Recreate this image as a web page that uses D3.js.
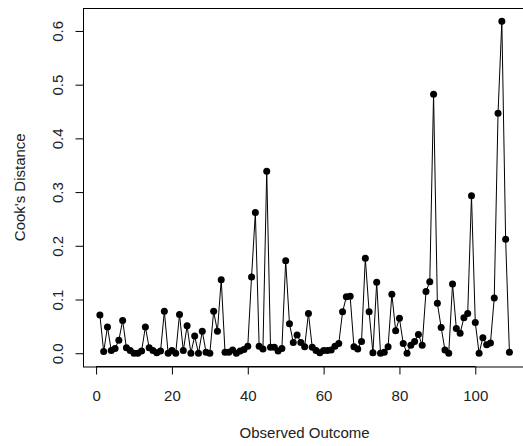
<!DOCTYPE html>
<html>
<head>
<meta charset="utf-8">
<script src="https://cdn.jsdelivr.net/npm/d3@7"></script>
<style>
    body { margin: 0; background: #fff; }
    #chart { width: 523px; height: 446px; }
    text { font-family: Arial, "Liberation Sans", sans-serif; }
</style>
</head>
<body>
<div id="chart"></div>
<script>

// observation index 1..109
var observations = d3.range(1, 110);

var cooksDistance = [
    0.071, 0.003, 0.049, 0.005, 0.009, 0.024, 0.061, 0.010, 0.005, 0.000,
    0.000, 0.004, 0.049, 0.010, 0.005, 0.001, 0.004, 0.078, 0.000, 0.005,
    0.000, 0.072, 0.005, 0.051, 0.000, 0.032, 0.000, 0.041, 0.002, 0.000,
    0.078, 0.041, 0.137, 0.002, 0.002, 0.006, 0.000, 0.004, 0.007, 0.013,
    0.142, 0.262, 0.013, 0.008, 0.339, 0.011, 0.011, 0.004, 0.009, 0.172,
    0.055, 0.020, 0.034, 0.020, 0.012, 0.074, 0.011, 0.005, 0.001, 0.005,
    0.005, 0.006, 0.013, 0.018, 0.077, 0.105, 0.106, 0.012, 0.008, 0.022,
    0.177, 0.077, 0.001, 0.132, 0.000, 0.002, 0.012, 0.110, 0.042, 0.065,
    0.018, 0.000, 0.015, 0.022, 0.035, 0.015, 0.115, 0.133, 0.482, 0.093,
    0.048, 0.006, 0.000, 0.129, 0.046, 0.037, 0.066, 0.074, 0.293, 0.057,
    0.000, 0.029, 0.016, 0.019, 0.103, 0.447, 0.618, 0.212, 0.002
];

var xTicks = [0, 20, 40, 60, 80, 100];
var yTicks = [0.0, 0.1, 0.2, 0.3, 0.4, 0.5, 0.6];
var xTitle = 'Observed Outcome';
var yTitle = "Cook's Distance";


class CooksPlot {


    constructor(x, y) {

        this._data = x.map((d, i) => ({ x: d, y: y[i] }));
        this._width = 523;
        this._height = 446;
        this._radius = 3.5;
        // plot region, the right edge falls just outside the picture
        this._box = { left: 83.5, right: 525.8, top: 8, bottom: 366.5 };
    }


    renderTo(selector) {

        var box = this._box;
        var xScale = this._getXScale();
        var yScale = this._getYScale();

        this._svg = d3.select(selector)
            .append('svg')
            .attr('width', this._width)
            .attr('height', this._height);

        this._svg.append('rect')
            .attr('x', box.left)
            .attr('y', box.top + 0.5)
            .attr('width', box.right - box.left)
            .attr('height', box.bottom - box.top)
            .style('fill', 'none')
            .style('stroke', '#000')
            .style('stroke-width', 1);

        // x axis
        var xAxis = this._svg.append('g')
            .attr('class', 'axis x-axis')
            .attr('transform', 'translate(0,' + box.bottom + ')')
            .call(d3.axisBottom(xScale).tickValues(xTicks).tickSize(8).tickSizeOuter(0));
        xAxis.select('.domain').remove();
        xAxis.append('line')
            .attr('x1', xScale(xTicks[0]))
            .attr('x2', xScale(xTicks[xTicks.length - 1]))
            .style('stroke', '#000');
        xAxis.selectAll('.tick line').style('stroke', '#000');
        xAxis.selectAll('.tick text')
            .attr('y', 34)
            .attr('dy', 0)
            .style('font-size', '15px')
            .style('fill', '#222');

        // y axis, labels parallel to the axis like base R
        var yAxis = this._svg.append('g')
            .attr('class', 'axis y-axis')
            .attr('transform', 'translate(' + box.left + ',0)')
            .call(d3.axisLeft(yScale).tickValues(yTicks).tickSize(8).tickSizeOuter(0)
                .tickFormat(d3.format('.1f')));
        yAxis.select('.domain').remove();
        yAxis.append('line')
            .attr('y1', yScale(yTicks[0]))
            .attr('y2', yScale(yTicks[yTicks.length - 1]))
            .style('stroke', '#000');
        yAxis.selectAll('.tick line').style('stroke', '#000');
        yAxis.selectAll('.tick text')
            .attr('x', 0)
            .attr('y', 0)
            .attr('dy', 0)
            .attr('transform', 'translate(-20.5,0) rotate(-90)')
            .style('text-anchor', 'middle')
            .style('font-size', '15px')
            .style('fill', '#222');

        // titles
        this._svg.append('text')
            .attr('x', (box.left + box.right) / 2)
            .attr('y', 438)
            .style('text-anchor', 'middle')
            .style('font-size', '15px')
            .style('fill', '#222')
            .text(xTitle);

        this._svg.append('text')
            .attr('transform', 'translate(25,' + (box.top + box.bottom) / 2 + ') rotate(-90)')
            .style('text-anchor', 'middle')
            .style('font-size', '15px')
            .style('fill', '#222')
            .text(yTitle);

        // type = "o": line through points
        var line = d3.line()
            .x(d => xScale(d.x))
            .y(d => yScale(d.y));

        this._svg.append('path')
            .datum(this._data)
            .attr('d', line)
            .style('fill', 'none')
            .style('stroke', '#000')
            .style('stroke-width', 1);

        this._svg.selectAll('circle')
            .data(this._data)
            .enter()
            .append('circle')
            .attr('cx', d => xScale(d.x))
            .attr('cy', d => yScale(d.y))
            .attr('r', this._radius)
            .style('fill', '#000');

        return this;
    }


    _getXScale() {

        return d3.scaleLinear()
            .domain(this._extend(d3.extent(this._data, d => d.x)))
            .range([this._box.left, this._box.right]);
    }


    _getYScale() {

        return d3.scaleLinear()
            .domain(this._extend([0, d3.max(this._data, d => d.y)]))
            .range([this._box.bottom, this._box.top]);
    }


    // R pads each axis range by 4%
    _extend(interval) {

        var add = (interval[1] - interval[0]) * 0.04;

        return [interval[0] - add, interval[1] + add];
    }
}


new CooksPlot(observations, cooksDistance).renderTo('#chart');

</script>
</body>
</html>
